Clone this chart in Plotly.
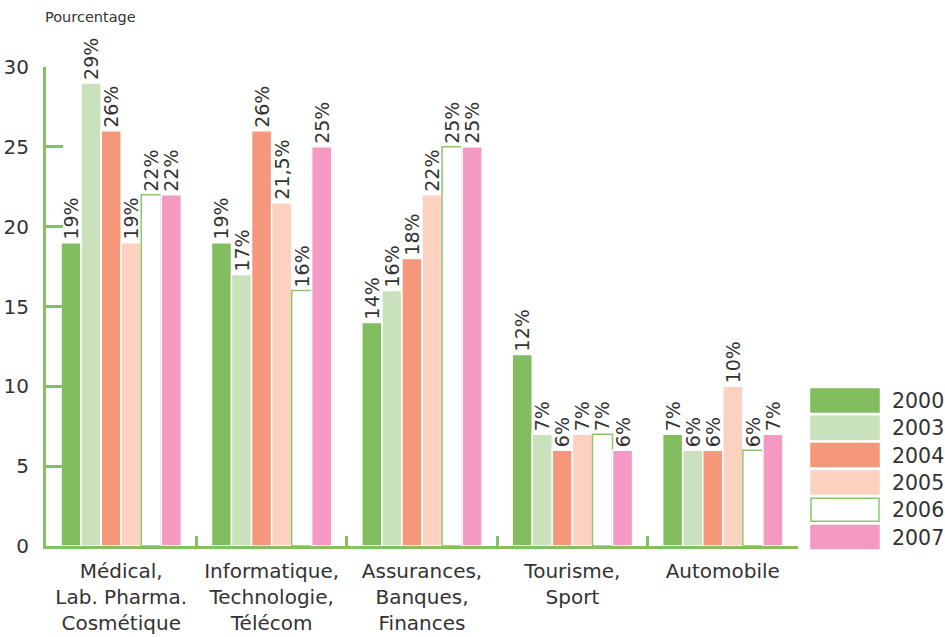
import plotly.graph_objects as go

categories = ["Médical,<br>Lab. Pharma.<br>Cosmétique",
              "Informatique,<br>Technologie,<br>Télécom",
              "Assurances,<br>Banques,<br>Finances",
              "Tourisme,<br>Sport",
              "Automobile"]
years = ["2000", "2003", "2004", "2005", "2006", "2007"]
v2000 = [19, 19, 14, 12, 7]
v2003 = [29, 17, 16, 7, 6]
v2004 = [26, 26, 18, 6, 6]
v2005 = [19, 21.5, 22, 7, 10]
v2006 = [22, 16, 25, 7, 6]
v2007 = [22, 25, 25, 6, 7]
y_ticks = [0, 5, 10, 15, 20, 25, 30]

series = [v2000, v2003, v2004, v2005, v2006, v2007]
fills = ["#82be5f", "#cae2bb", "#f5977a", "#fcd1c0", "#ffffff", "#f49ac2"]
edges = ["#ffffff", "#ffffff", "#ffffff", "#ffffff", "#8cc56c", "#ffffff"]
green = "#84c062"
txt = "#333333"
font = "DejaVu Sans"

fig = go.Figure()
for yr, vals, fc, ec in zip(years, series, fills, edges):
    labels = [(f"{v:g}".replace(".", ",")) + "%" for v in vals]
    fig.add_trace(go.Bar(
        x=categories, y=vals, name=yr,
        marker=dict(color=fc, line=dict(color=ec, width=1.5)),
        text=labels, textposition="outside", textangle=-90,
        constraintext="none", cliponaxis=False,
        textfont=dict(family=font, size=19, color=txt),
    ))

W, H = 945, 637
ml, mr, mt, mb = 46, 147, 67, 91
pw, ph = W - ml - mr, H - mt - mb


def px_x(p):
    return (p - ml) / pw


def px_y(p):
    return (H - mb - p) / ph


shapes = []
annotations = []
for i, (yr, fc) in enumerate(zip(years, fills)):
    top = 389 + i * 27.3
    line_col = "#8cc56c" if yr == "2006" else fc
    shapes.append(dict(type="rect", xref="paper", yref="paper",
                       x0=px_x(811), x1=px_x(879), y0=px_y(top + 23), y1=px_y(top),
                       fillcolor=fc, line=dict(color=line_col, width=1.5)))
    annotations.append(dict(xref="paper", yref="paper", x=px_x(890), y=px_y(top + 12),
                            text=yr, showarrow=False, xanchor="left", yanchor="middle",
                            font=dict(family=font, size=20.5, color=txt)))

annotations.append(dict(xref="paper", yref="paper", x=px_x(43), y=px_y(17),
                        text="Pourcentage", showarrow=False, xanchor="left", yanchor="middle",
                        font=dict(family=font, size=14.5, color=txt)))

fig.update_layout(
    width=W, height=H,
    margin=dict(l=ml, r=mr, t=mt, b=mb, pad=0),
    plot_bgcolor="white", paper_bgcolor="white",
    barmode="group", bargap=0.2, bargroupgap=0,
    showlegend=False,
    font=dict(family=font, color=txt),
    shapes=shapes, annotations=annotations,
    xaxis=dict(range=[-0.5, 4.5], showline=True, linecolor=green, linewidth=3,
               ticks="inside", tickson="boundaries", ticklen=10, tickwidth=3,
               tickcolor=green, showgrid=False, automargin=False, ticklabelstandoff=5,
               tickfont=dict(family=font, size=20, color=txt)),
    yaxis=dict(range=[0, 30], tickvals=y_ticks, showline=True, linecolor=green, linewidth=3,
               ticks="inside", ticklen=17, tickwidth=3, tickcolor=green,
               showgrid=False, zeroline=False, ticklabelstandoff=10, automargin=False,
               tickfont=dict(family=font, size=20, color=txt)),
)

# the browser's default 8px body margin would shift the whole figure
fig.write_html("out.html", config={"displayModeBar": False},
               post_script="document.body.style.margin='0';document.body.style.overflow='hidden';")
